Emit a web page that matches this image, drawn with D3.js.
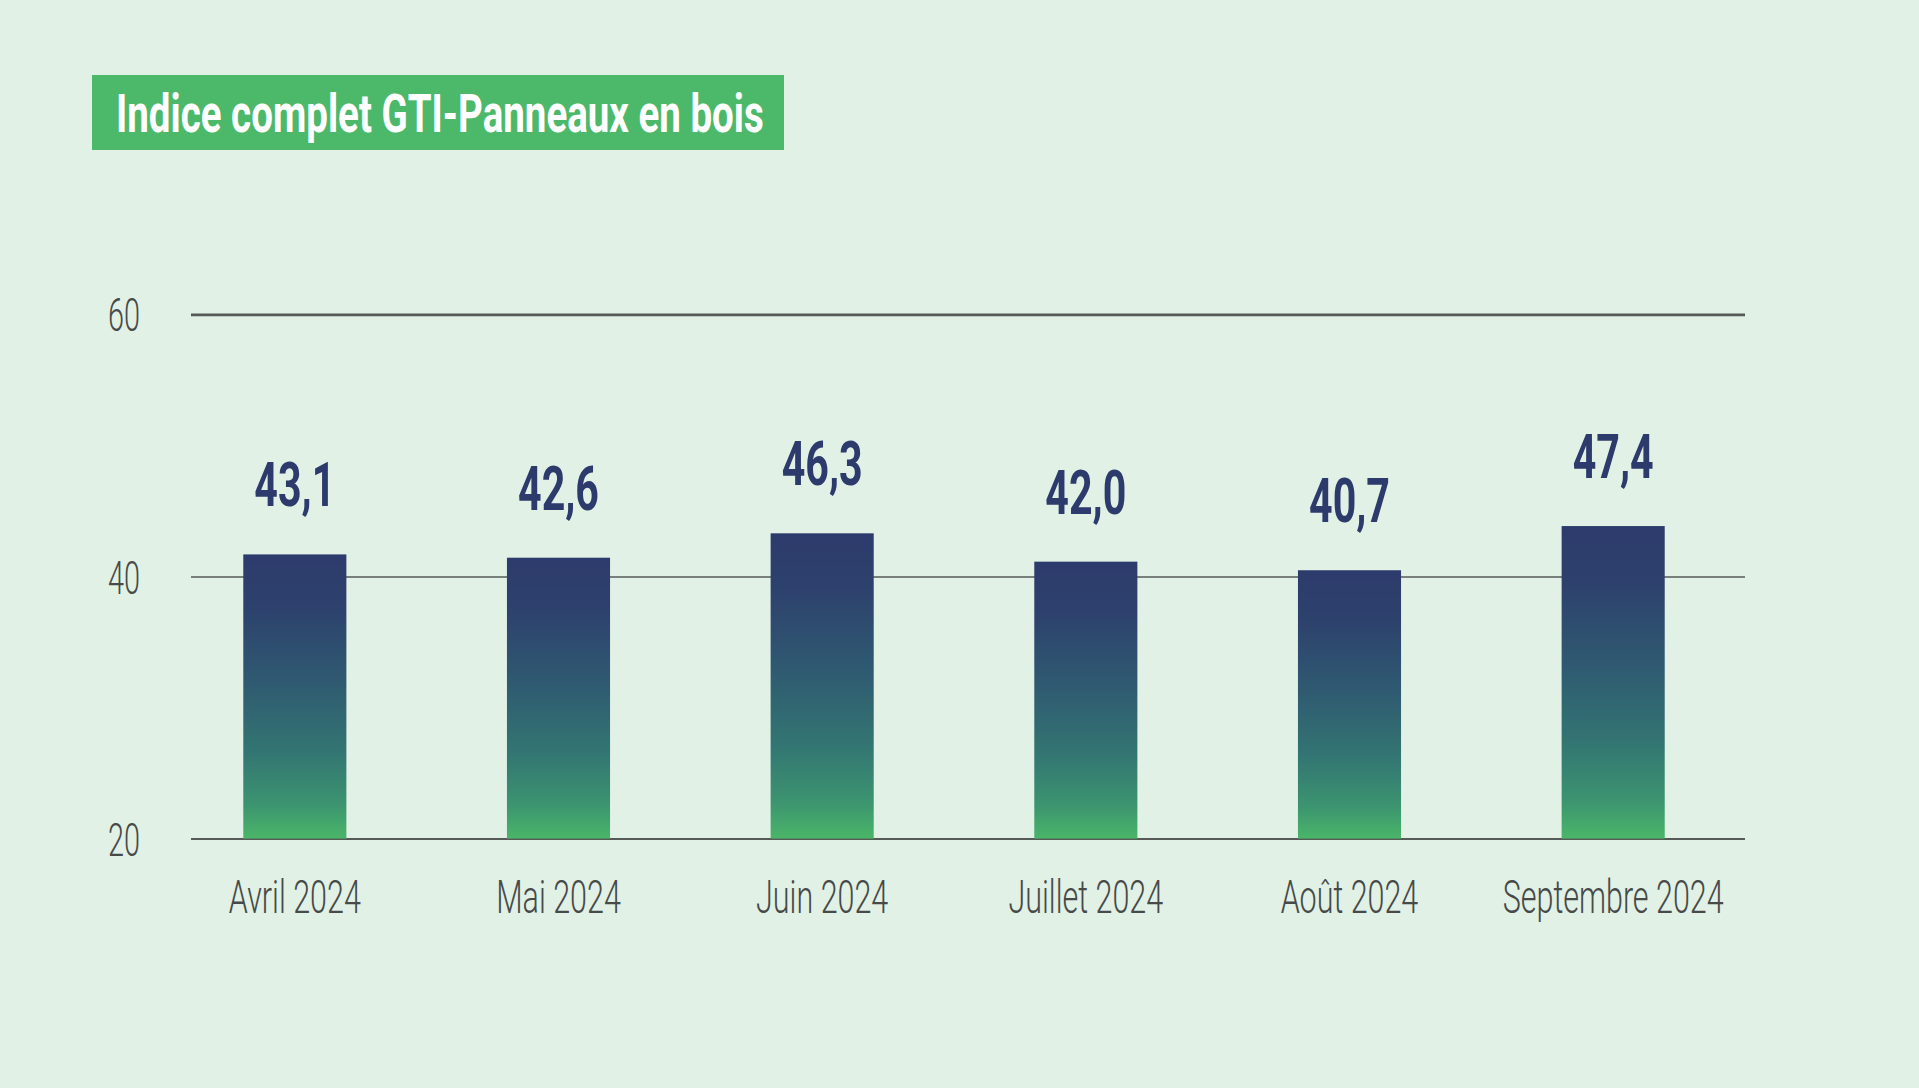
<!DOCTYPE html>
<html><head><meta charset="utf-8">
<script src="https://cdn.jsdelivr.net/npm/d3@7"></script>
<style>
html,body{margin:0;padding:0;background:#e1f1e6;}
svg{display:block;}
</style></head>
<body>
<svg id="chart" width="1919" height="1088"></svg>
<script>
// ---- data ----
const categories = ["Avril 2024","Mai 2024","Juin 2024","Juillet 2024","Août 2024","Septembre 2024"];
const values = [43.1, 42.6, 46.3, 42.0, 40.7, 47.4];
const yTicks = [20, 40, 60];
const titleText = "Indice complet GTI-Panneaux en bois";

// ---- layout ----
const W = 1919, H = 1088;
const gridLeft = 191, gridRight = 1745;
const yBottom = 838.6, yTop = 314.4;

const svg = d3.select("#chart");
svg.append("rect").attr("width", W).attr("height", H).attr("fill", "#e1f1e6");

const fr = d3.formatLocale({decimal: ",", thousands: " ", grouping: [3], currency: ["", "€"]});
const fmt = fr.format(".1f");

// helper: natural width of a string
function natWidth(str, size, weight) {
  const t = svg.append("text").attr("font-family", "Roboto").attr("font-size", size)
    .attr("font-weight", weight).text(str);
  const w = t.node().getComputedTextLength();
  t.remove();
  return w;
}
const catSize = 46, catWeight = 300;
const valSize = 61, valWeight = 700;
const titleSize = 53, titleWeight = 700;
const catSX = 132 / natWidth("Avril 2024", catSize, catWeight);
const tickSX = 32 / natWidth("60", catSize, catWeight);
const valSX = 81 / natWidth("43,1", valSize, valWeight);
const titleSX = 648 / natWidth(titleText, titleSize, titleWeight);

// gradient
const defs = svg.append("defs");
const grad = defs.append("linearGradient").attr("id", "barGrad")
  .attr("x1", 0).attr("y1", 0).attr("x2", 0).attr("y2", 1);
[[0, "#2d3b6c"], [0.18, "#2d416d"], [0.45, "#2f5a71"], [0.7, "#337672"], [0.88, "#3c9470"], [1, "#4ab668"]]
  .forEach(([o, c]) => grad.append("stop").attr("offset", o).attr("stop-color", c));

// scales
const x = d3.scaleBand().domain(categories).range([163, 1745]).paddingInner(0.609).paddingOuter(0.3045);
const yAxisScale = d3.scaleLinear().domain([20, 60]).range([yBottom, yTop]);
const yBar = d3.scaleLinear().domain([0, 79.5]).range([yBottom, yTop]);

// title
svg.append("rect").attr("x", 92).attr("y", 75).attr("width", 692).attr("height", 75).attr("fill", "#4cb96a");
svg.append("text").attr("transform", `translate(116,131.7) scale(${titleSX},1)`)
  .attr("font-family", "Roboto").attr("font-size", titleSize).attr("font-weight", titleWeight)
  .attr("fill", "#ffffff").text(titleText);

// y axis with gridlines
const yAxis = d3.axisLeft(yAxisScale).tickValues(yTicks).tickSize(-(gridRight - gridLeft)).tickFormat(d3.format("d"));
const gy = svg.append("g").attr("transform", `translate(${gridLeft},0)`).call(yAxis);
gy.select(".domain").remove();
gy.selectAll(".tick line").attr("stroke", "#555a57")
  .attr("stroke-width", d => d === 60 ? 2.8 : (d === 20 ? 2.0 : 1.6));
gy.selectAll(".tick text")
  .attr("x", 0).attr("dy", "0.36em")
  .attr("transform", `translate(-51,0) scale(${tickSX},1)`)
  .attr("text-anchor", "end")
  .attr("font-family", "Roboto").attr("font-size", catSize).attr("font-weight", catWeight)
  .attr("fill", "#474a48");

// bars
svg.append("g").selectAll("rect").data(values).join("rect")
  .attr("x", (d, i) => x(categories[i]))
  .attr("width", x.bandwidth())
  .attr("y", d => yBar(d))
  .attr("height", d => yBar(0) - yBar(d))
  .attr("fill", "url(#barGrad)");

// value labels
svg.append("g").selectAll("text").data(values).join("text")
  .attr("transform", (d, i) => `translate(${x(categories[i]) + x.bandwidth() / 2},${yBar(d) - 48}) scale(${valSX},1)`)
  .attr("text-anchor", "middle")
  .attr("font-family", "Roboto").attr("font-size", valSize).attr("font-weight", valWeight)
  .attr("fill", "#2d3b6c")
  .text(d => fmt(d));

// x axis labels
const xAxis = d3.axisBottom(x).tickSize(0);
const gx = svg.append("g").attr("transform", `translate(0,${yBottom})`).call(xAxis);
gx.select(".domain").remove();
gx.selectAll(".tick text")
  .attr("y", 0).attr("dy", 0)
  .attr("transform", `translate(0,74) scale(${catSX},1)`)
  .attr("text-anchor", "middle")
  .attr("font-family", "Roboto").attr("font-size", catSize).attr("font-weight", catWeight)
  .attr("fill", "#474a48");
</script>
</body></html>
